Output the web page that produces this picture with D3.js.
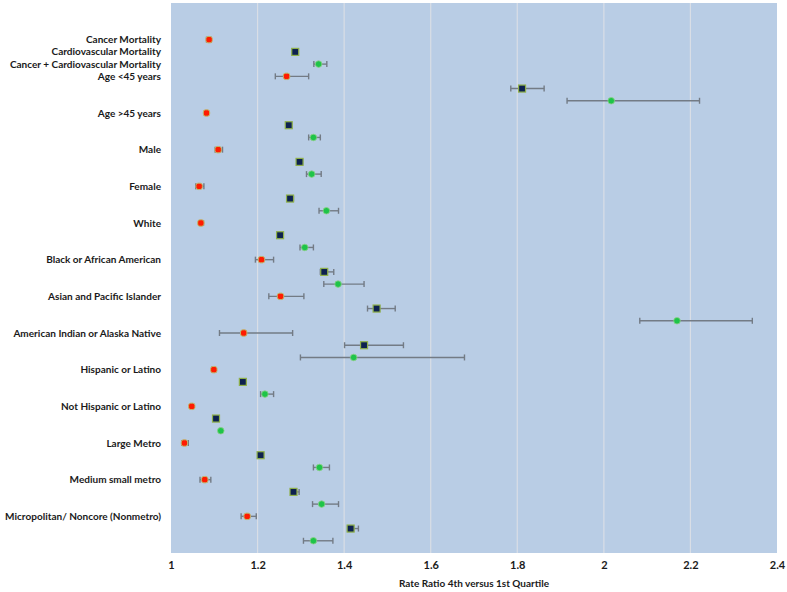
<!DOCTYPE html>
<html><head><meta charset="utf-8">
<script src="https://cdn.jsdelivr.net/npm/d3@7"></script>
<style>body{margin:0;background:#fff}svg text{font-family:Lato,"Open Sans",sans-serif;font-weight:bold;fill:#1a1a1a}</style>
</head><body>
<script>
// row positions (0..45 scale), series type, estimate, lower, upper
const rowPos = [3,4,5,6,7,8,9,10,11,12,13,14,15,16,17,18,19,20,21,22,23,24,25,26,27,28,29,30,31,32,33,34,35,36,37,38,39,40,41,42,43,44];
const seriesType = ["cancer","cvd","both","cancer","cvd","both","cancer","cvd","both","cancer","cvd","both","cancer","cvd","both","cancer","cvd","both","cancer","cvd","both","cancer","cvd","both","cancer","cvd","both","cancer","cvd","both","cancer","cvd","both","cancer","cvd","both","cancer","cvd","both","cancer","cvd","both"];
const estimate = [1.088,1.287,1.341,1.267,1.811,2.017,1.082,1.272,1.329,1.109,1.297,1.325,1.065,1.275,1.359,1.069,1.252,1.309,1.209,1.354,1.386,1.253,1.475,2.169,1.168,1.446,1.422,1.099,1.166,1.217,1.048,1.104,1.115,1.031,1.207,1.343,1.078,1.283,1.348,1.176,1.415,1.329];
const lower =    [1.082,1.284,1.330,1.241,1.785,1.915,1.079,1.270,1.318,1.102,1.292,1.313,1.057,1.270,1.342,1.064,1.250,1.298,1.195,1.345,1.353,1.226,1.454,2.083,1.112,1.401,1.299,1.094,1.164,1.207,1.046,1.102,1.113,1.025,1.205,1.329,1.067,1.277,1.327,1.162,1.408,1.306];
const upper =    [1.093,1.290,1.360,1.318,1.862,2.221,1.085,1.274,1.345,1.119,1.304,1.347,1.076,1.283,1.387,1.075,1.254,1.329,1.237,1.376,1.446,1.307,1.518,2.343,1.281,1.537,1.678,1.102,1.168,1.237,1.050,1.106,1.117,1.040,1.209,1.366,1.092,1.296,1.387,1.197,1.433,1.374];
const labelText = ["Cancer Mortality","Cardiovascular Mortality","Cancer + Cardiovascular Mortality","Age <45 years","Age >45 years","Male","Female","White","Black or African American","Asian and Pacific Islander","American Indian or Alaska Native","Hispanic or Latino","Not Hispanic or Latino","Large Metro","Medium small metro","Micropolitan/ Noncore (Nonmetro)"];
const labelRow = [3,4,5,6,9,12,15,18,21,24,27,30,33,36,39,42];
const xTicks = [1,1.2,1.4,1.6,1.8,2,2.2,2.4];
const xTitle = "Rate Ratio 4th versus 1st Quartile";

const W = 787, H = 592;
const m = {left:171, right:10, top:3, bottom:39};
const svg = d3.select("body").append("svg").attr("width",W).attr("height",H);
const x = d3.scaleLinear().domain([1,2.4]).range([m.left, W-m.right]);
const y = d3.scaleLinear().domain([0,45]).range([m.top, H-m.bottom]);

svg.append("rect").attr("x",m.left).attr("y",m.top).attr("width",x(2.4)-m.left).attr("height",y(45)-m.top).attr("fill","#b9cde5");

svg.append("g").selectAll("line").data(xTicks.slice(1,-1)).join("line")
  .attr("x1",d=>x(d)).attr("x2",d=>x(d)).attr("y1",m.top).attr("y2",y(45))
  .attr("stroke","#d9dee6").attr("stroke-width",1.2);

const xAxis = d3.axisBottom(x).tickValues(xTicks).tickFormat(d=>d3.format("~g")(d)).tickSize(0).tickPadding(8);
const gx = svg.append("g").attr("transform",`translate(0,${y(45)})`).call(xAxis);
gx.select(".domain").remove();
gx.selectAll("text").attr("font-size",11).style("font-family","Lato,sans-serif").attr("font-weight","bold").attr("fill","#1a1a1a");

const tt = svg.append("text").attr("x",(x(1)+x(2.4))/2).attr("y",587).attr("text-anchor","middle").attr("font-size",10).text(xTitle);
if (tt.node().getComputedTextLength() > 150) tt.attr("textLength",150).attr("lengthAdjust","spacingAndGlyphs");

const labels = svg.append("g").selectAll("text").data(labelText).join("text")
  .attr("x",161).attr("y",(d,i)=>y(labelRow[i])).attr("dy","0.35em").attr("text-anchor","end")
  .attr("font-size",11).text(d=>d);
const maxW = d3.max(labels.nodes(), n=>n.getComputedTextLength());
const fs = Math.min(11, 11*156/maxW);
labels.attr("font-size",fs);

const data = rowPos.map((r,i)=>({r, t:seriesType[i], v:estimate[i], lo:lower[i], hi:upper[i]}));
const eb = svg.append("g").attr("stroke","#737b85").attr("stroke-width",1.4);
eb.selectAll(".bar").data(data).join("line").attr("x1",d=>x(d.lo)).attr("x2",d=>x(d.hi)).attr("y1",d=>y(d.r)).attr("y2",d=>y(d.r));
eb.selectAll(".capL").data(data).join("line").attr("x1",d=>x(d.lo)).attr("x2",d=>x(d.lo)).attr("y1",d=>y(d.r)-3).attr("y2",d=>y(d.r)+3);
eb.selectAll(".capR").data(data).join("line").attr("x1",d=>x(d.hi)).attr("x2",d=>x(d.hi)).attr("y1",d=>y(d.r)-3).attr("y2",d=>y(d.r)+3);

const mk = svg.append("g");
mk.selectAll("rect.cvd").data(data.filter(d=>d.t==="cvd")).join("rect")
  .attr("x",d=>x(d.v)-3.5).attr("y",d=>y(d.r)-3.5).attr("width",7).attr("height",7)
  .attr("fill","#0d2150").attr("stroke","#8fb04a").attr("stroke-width",1.2);
mk.selectAll("rect.cancer").data(data.filter(d=>d.t==="cancer")).join("rect")
  .attr("x",d=>x(d.v)-3.2).attr("y",d=>y(d.r)-3.2).attr("width",6.4).attr("height",6.4).attr("rx",2.2)
  .attr("fill","#ff1a00").attr("stroke","#c2b86a").attr("stroke-width",1);
mk.selectAll("circle.both").data(data.filter(d=>d.t==="both")).join("circle")
  .attr("cx",d=>x(d.v)).attr("cy",d=>y(d.r)).attr("r",3.3)
  .attr("fill","#1ec449").attr("stroke","#8fd08a").attr("stroke-width",0.8);
</script>
</body></html>
